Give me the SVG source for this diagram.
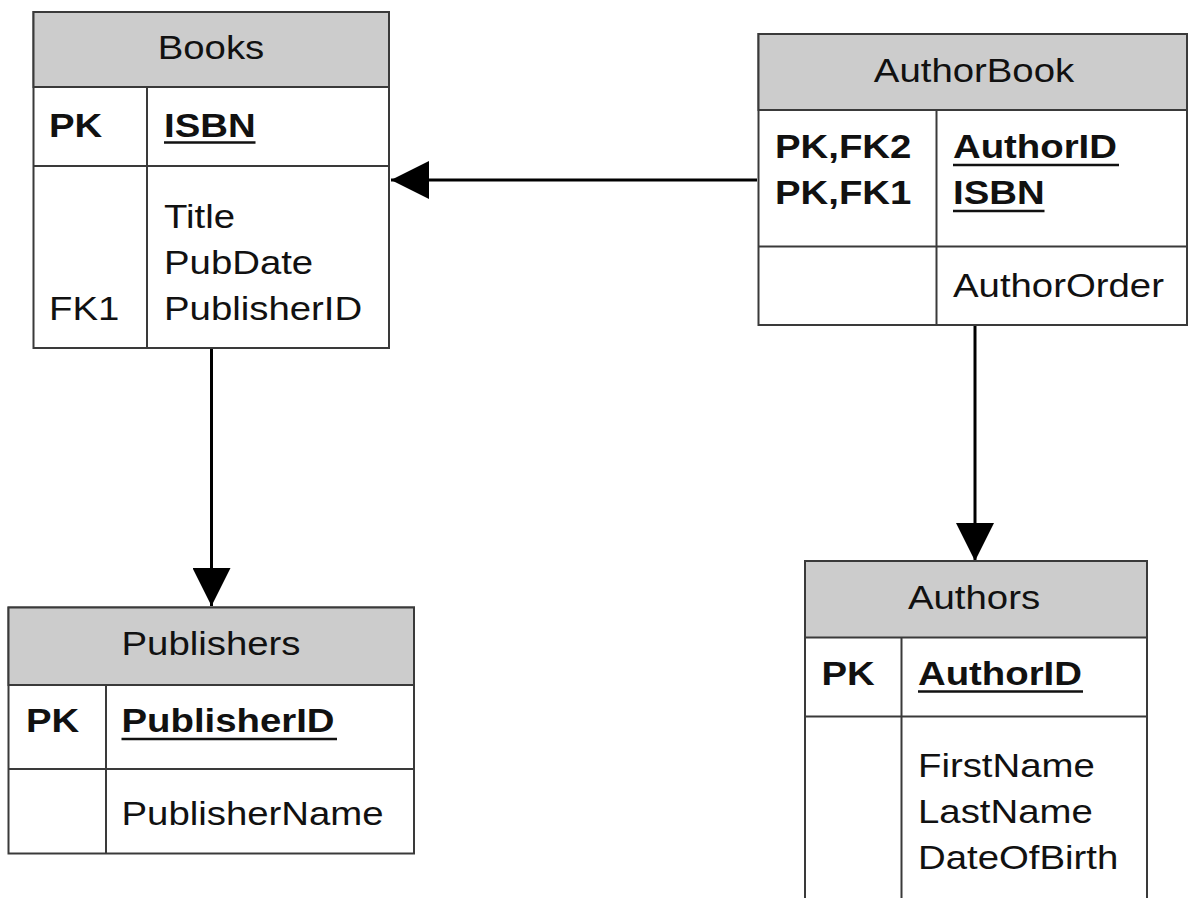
<svg xmlns="http://www.w3.org/2000/svg" width="1188" height="898" viewBox="0 0 1188 898">
  <style>
    .box { fill: #ffffff; stroke: #3a3a3a; stroke-width: 2; }
    .head { fill: #cccccc; stroke: #3a3a3a; stroke-width: 2; }
    .rule { stroke: #3a3a3a; stroke-width: 2; fill: none; }
    .ul { stroke: #111111; stroke-width: 2.5; }
    text { font-family: "Liberation Sans", Arial, sans-serif; font-size: 32.5px; fill: #111111; }
    .title { text-anchor: middle; }
    .key { font-weight: bold; }
    .link { stroke: #000000; stroke-width: 3; fill: none; }
  </style>
  <defs>
    <marker id="arrow" viewBox="0 0 38 38" refX="38" refY="19" markerWidth="38" markerHeight="38" markerUnits="userSpaceOnUse" orient="auto">
      <path d="M0,0 L38,19 L0,38 Z" fill="#000000"/>
    </marker>
  </defs>

  <rect width="1188" height="898" fill="#ffffff"/>

  <!-- relationships -->
  <g id="connectors">
    <line class="link" x1="757" y1="180" x2="391" y2="180" marker-end="url(#arrow)"/>
    <line class="link" x1="211.5" y1="348" x2="211.5" y2="606" marker-end="url(#arrow)"/>
    <line class="link" x1="975" y1="325" x2="975" y2="561" marker-end="url(#arrow)"/>
  </g>

  <!-- Books -->
  <g id="books">
    <rect class="box" x="33.5" y="12" width="355.5" height="336"/>
    <rect class="head" x="33.5" y="12" width="355.5" height="75"/>
    <line class="rule" x1="33.5" y1="166" x2="389" y2="166"/>
    <line class="rule" x1="147" y1="87" x2="147" y2="348"/>
    <text class="title" transform="matrix(1.18 0 0 1 211 59)">Books</text>
    <text class="key" transform="matrix(1.18 0 0 1 49 136.5)">PK</text>
    <text class="key" transform="matrix(1.18 0 0 1 164 136.5)">ISBN</text>
    <line class="ul" x1="164" y1="142.5" x2="255.5" y2="142.5"/>
    <text transform="matrix(1.18 0 0 1 164 228)">Title</text>
    <text transform="matrix(1.18 0 0 1 164 274)">PubDate</text>
    <text transform="matrix(1.18 0 0 1 164 319.5)">PublisherID</text>
    <text transform="matrix(1.18 0 0 1 49 319.5)">FK1</text>
  </g>

  <!-- AuthorBook -->
  <g id="authorbook">
    <rect class="box" x="758.5" y="34" width="428.5" height="291"/>
    <rect class="head" x="758.5" y="34" width="428.5" height="76"/>
    <line class="rule" x1="758.5" y1="246.5" x2="1187" y2="246.5"/>
    <line class="rule" x1="936.5" y1="110" x2="936.5" y2="325"/>
    <text class="title" transform="matrix(1.18 0 0 1 974 81.5)">AuthorBook</text>
    <text class="key" transform="matrix(1.18 0 0 1 775 158)">PK,FK2</text>
    <text class="key" transform="matrix(1.18 0 0 1 775 204)">PK,FK1</text>
    <text class="key" transform="matrix(1.18 0 0 1 953 158)">AuthorID</text>
    <line class="ul" x1="953" y1="165" x2="1119" y2="165"/>
    <text class="key" transform="matrix(1.18 0 0 1 953 204)">ISBN</text>
    <line class="ul" x1="953" y1="211" x2="1044.5" y2="211"/>
    <text transform="matrix(1.18 0 0 1 953 297)">AuthorOrder</text>
  </g>

  <!-- Publishers -->
  <g id="publishers">
    <rect class="box" x="8.5" y="607.5" width="405.5" height="246"/>
    <rect class="head" x="8.5" y="607.5" width="405.5" height="77.5"/>
    <line class="rule" x1="8.5" y1="769" x2="414" y2="769"/>
    <line class="rule" x1="106" y1="685" x2="106" y2="853.5"/>
    <text class="title" transform="matrix(1.18 0 0 1 211 655)">Publishers</text>
    <text class="key" transform="matrix(1.18 0 0 1 26 731.5)">PK</text>
    <text class="key" transform="matrix(1.18 0 0 1 121.5 731.5)">PublisherID</text>
    <line class="ul" x1="121.5" y1="739" x2="337" y2="739"/>
    <text transform="matrix(1.18 0 0 1 121.5 825)">PublisherName</text>
  </g>

  <!-- Authors -->
  <g id="authors">
    <rect class="box" x="805" y="561" width="342" height="345"/>
    <rect class="head" x="805" y="561" width="342" height="76.5"/>
    <line class="rule" x1="805" y1="716.5" x2="1147" y2="716.5"/>
    <line class="rule" x1="901.5" y1="637.5" x2="901.5" y2="906"/>
    <text class="title" transform="matrix(1.18 0 0 1 974 609)">Authors</text>
    <text class="key" transform="matrix(1.18 0 0 1 821.5 685)">PK</text>
    <text class="key" transform="matrix(1.18 0 0 1 918 685)">AuthorID</text>
    <line class="ul" x1="918" y1="691.5" x2="1083" y2="691.5"/>
    <text transform="matrix(1.18 0 0 1 918 776.5)">FirstName</text>
    <text transform="matrix(1.18 0 0 1 918 823)">LastName</text>
    <text transform="matrix(1.18 0 0 1 918 869)">DateOfBirth</text>
  </g>
</svg>
